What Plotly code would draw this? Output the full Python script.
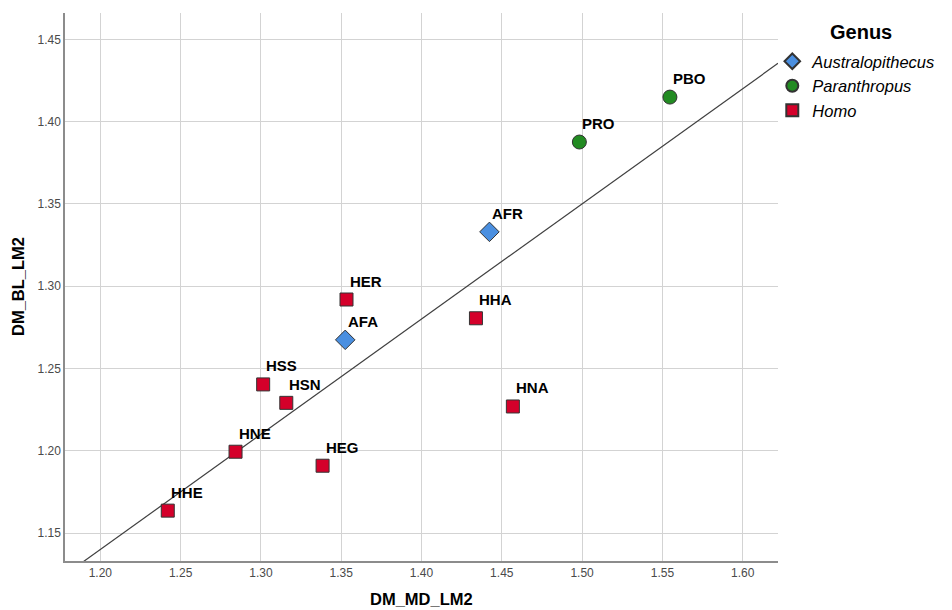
import plotly.graph_objects as go

# Data
genera = ["Australopithecus", "Paranthropus", "Homo"]
aus_labels = ["AFA", "AFR"]
aus_x = [1.3525, 1.4423]
aus_y = [1.2674, 1.3330]

par_labels = ["PRO", "PBO"]
par_x = [1.4983, 1.5547]
par_y = [1.3876, 1.4149]

homo_labels = ["HHE", "HNE", "HSS", "HSN", "HEG", "HER", "HHA", "HNA"]
homo_x = [1.2420, 1.2842, 1.3014, 1.3158, 1.3384, 1.3533, 1.4339, 1.4569]
homo_y = [1.1636, 1.1994, 1.2403, 1.2291, 1.1909, 1.2919, 1.2805, 1.2269]

line_intercept = 0.30
line_slope = 0.70
line_x = [1.178, 1.622]

x_range = [1.178, 1.622]
y_range = [1.133, 1.466]
x_ticks = [1.20, 1.25, 1.30, 1.35, 1.40, 1.45, 1.50, 1.55, 1.60]
y_ticks = [1.15, 1.20, 1.25, 1.30, 1.35, 1.40, 1.45]

FONT = "Liberation Sans, Arial, sans-serif"

fig = go.Figure()

fig.add_trace(go.Scatter(
    x=line_x, y=[line_intercept + line_slope * v for v in line_x],
    mode="lines", line=dict(color="#404040", width=1.2),
    showlegend=False, hoverinfo="skip"))

series = [
    (genera[0], aus_x, aus_y, aus_labels, "diamond", "#4a8fe0", 15),
    (genera[1], par_x, par_y, par_labels, "circle", "#228b22", 14),
    (genera[2], homo_x, homo_y, homo_labels, "square", "#d4002a", 13),
]

for name, xs, ys, labs, sym, col, sz in series:
    fig.add_trace(go.Scatter(
        x=xs, y=ys, mode="markers", name=name,
        marker=dict(symbol=sym, color=col, size=sz,
                    line=dict(color="#333333", width=1)),
        cliponaxis=False))
    for xv, yv, lab in zip(xs, ys, labs):
        fig.add_annotation(
            x=xv, y=yv, text="<b>%s</b>" % lab, showarrow=False,
            xanchor="left", yanchor="bottom", xshift=1, yshift=8,
            font=dict(family=FONT, size=15, color="#000000"))

# Axis titles and legend title
fig.add_annotation(x=0.5, y=0, xref="paper", yref="paper", text="<b>DM_MD_LM2</b>",
                   showarrow=False, xanchor="center", yanchor="middle", yshift=-38,
                   font=dict(family=FONT, size=16.5, color="#000000"))
fig.add_annotation(x=0, y=0.5, xref="paper", yref="paper", text="<b>DM_BL_LM2</b>",
                   showarrow=False, xanchor="center", yanchor="middle", xshift=-47,
                   textangle=-90, font=dict(family=FONT, size=16.5, color="#000000"))
fig.add_annotation(x=1.117, y=0.9653, xref="paper", yref="paper", text="<b>Genus</b>",
                   showarrow=False, xanchor="center", yanchor="middle",
                   font=dict(family=FONT, size=20, color="#000000"))

fig.update_layout(
    width=952, height=610,
    margin=dict(l=65, r=174, t=13, b=49),
    paper_bgcolor="white", plot_bgcolor="white",
    font=dict(family=FONT),
    legend=dict(
        x=0.992, xanchor="left", y=0.9434, yanchor="top",
        font=dict(size=16.5, color="#000000", style="italic"),
        itemsizing="constant", tracegroupgap=0, borderwidth=0,
        bgcolor="rgba(0,0,0,0)"),
    xaxis=dict(
        range=x_range, tickvals=x_ticks, ticktext=["%.2f" % v for v in x_ticks],
        showgrid=True, gridcolor="#d3d3d3", gridwidth=1,
        showline=True, linecolor="#8c8c8c", linewidth=1.5,
        ticks="", zeroline=False, automargin=False,
        tickfont=dict(size=12, color="#4a4a4a")),
    yaxis=dict(
        range=y_range, tickvals=y_ticks, ticktext=["%.2f" % v for v in y_ticks],
        showgrid=True, gridcolor="#d3d3d3", gridwidth=1,
        showline=True, linecolor="#8c8c8c", linewidth=1.5,
        ticks="", zeroline=False, automargin=False,
        tickfont=dict(size=12, color="#4a4a4a")),
)

fig.write_html("out.html")
